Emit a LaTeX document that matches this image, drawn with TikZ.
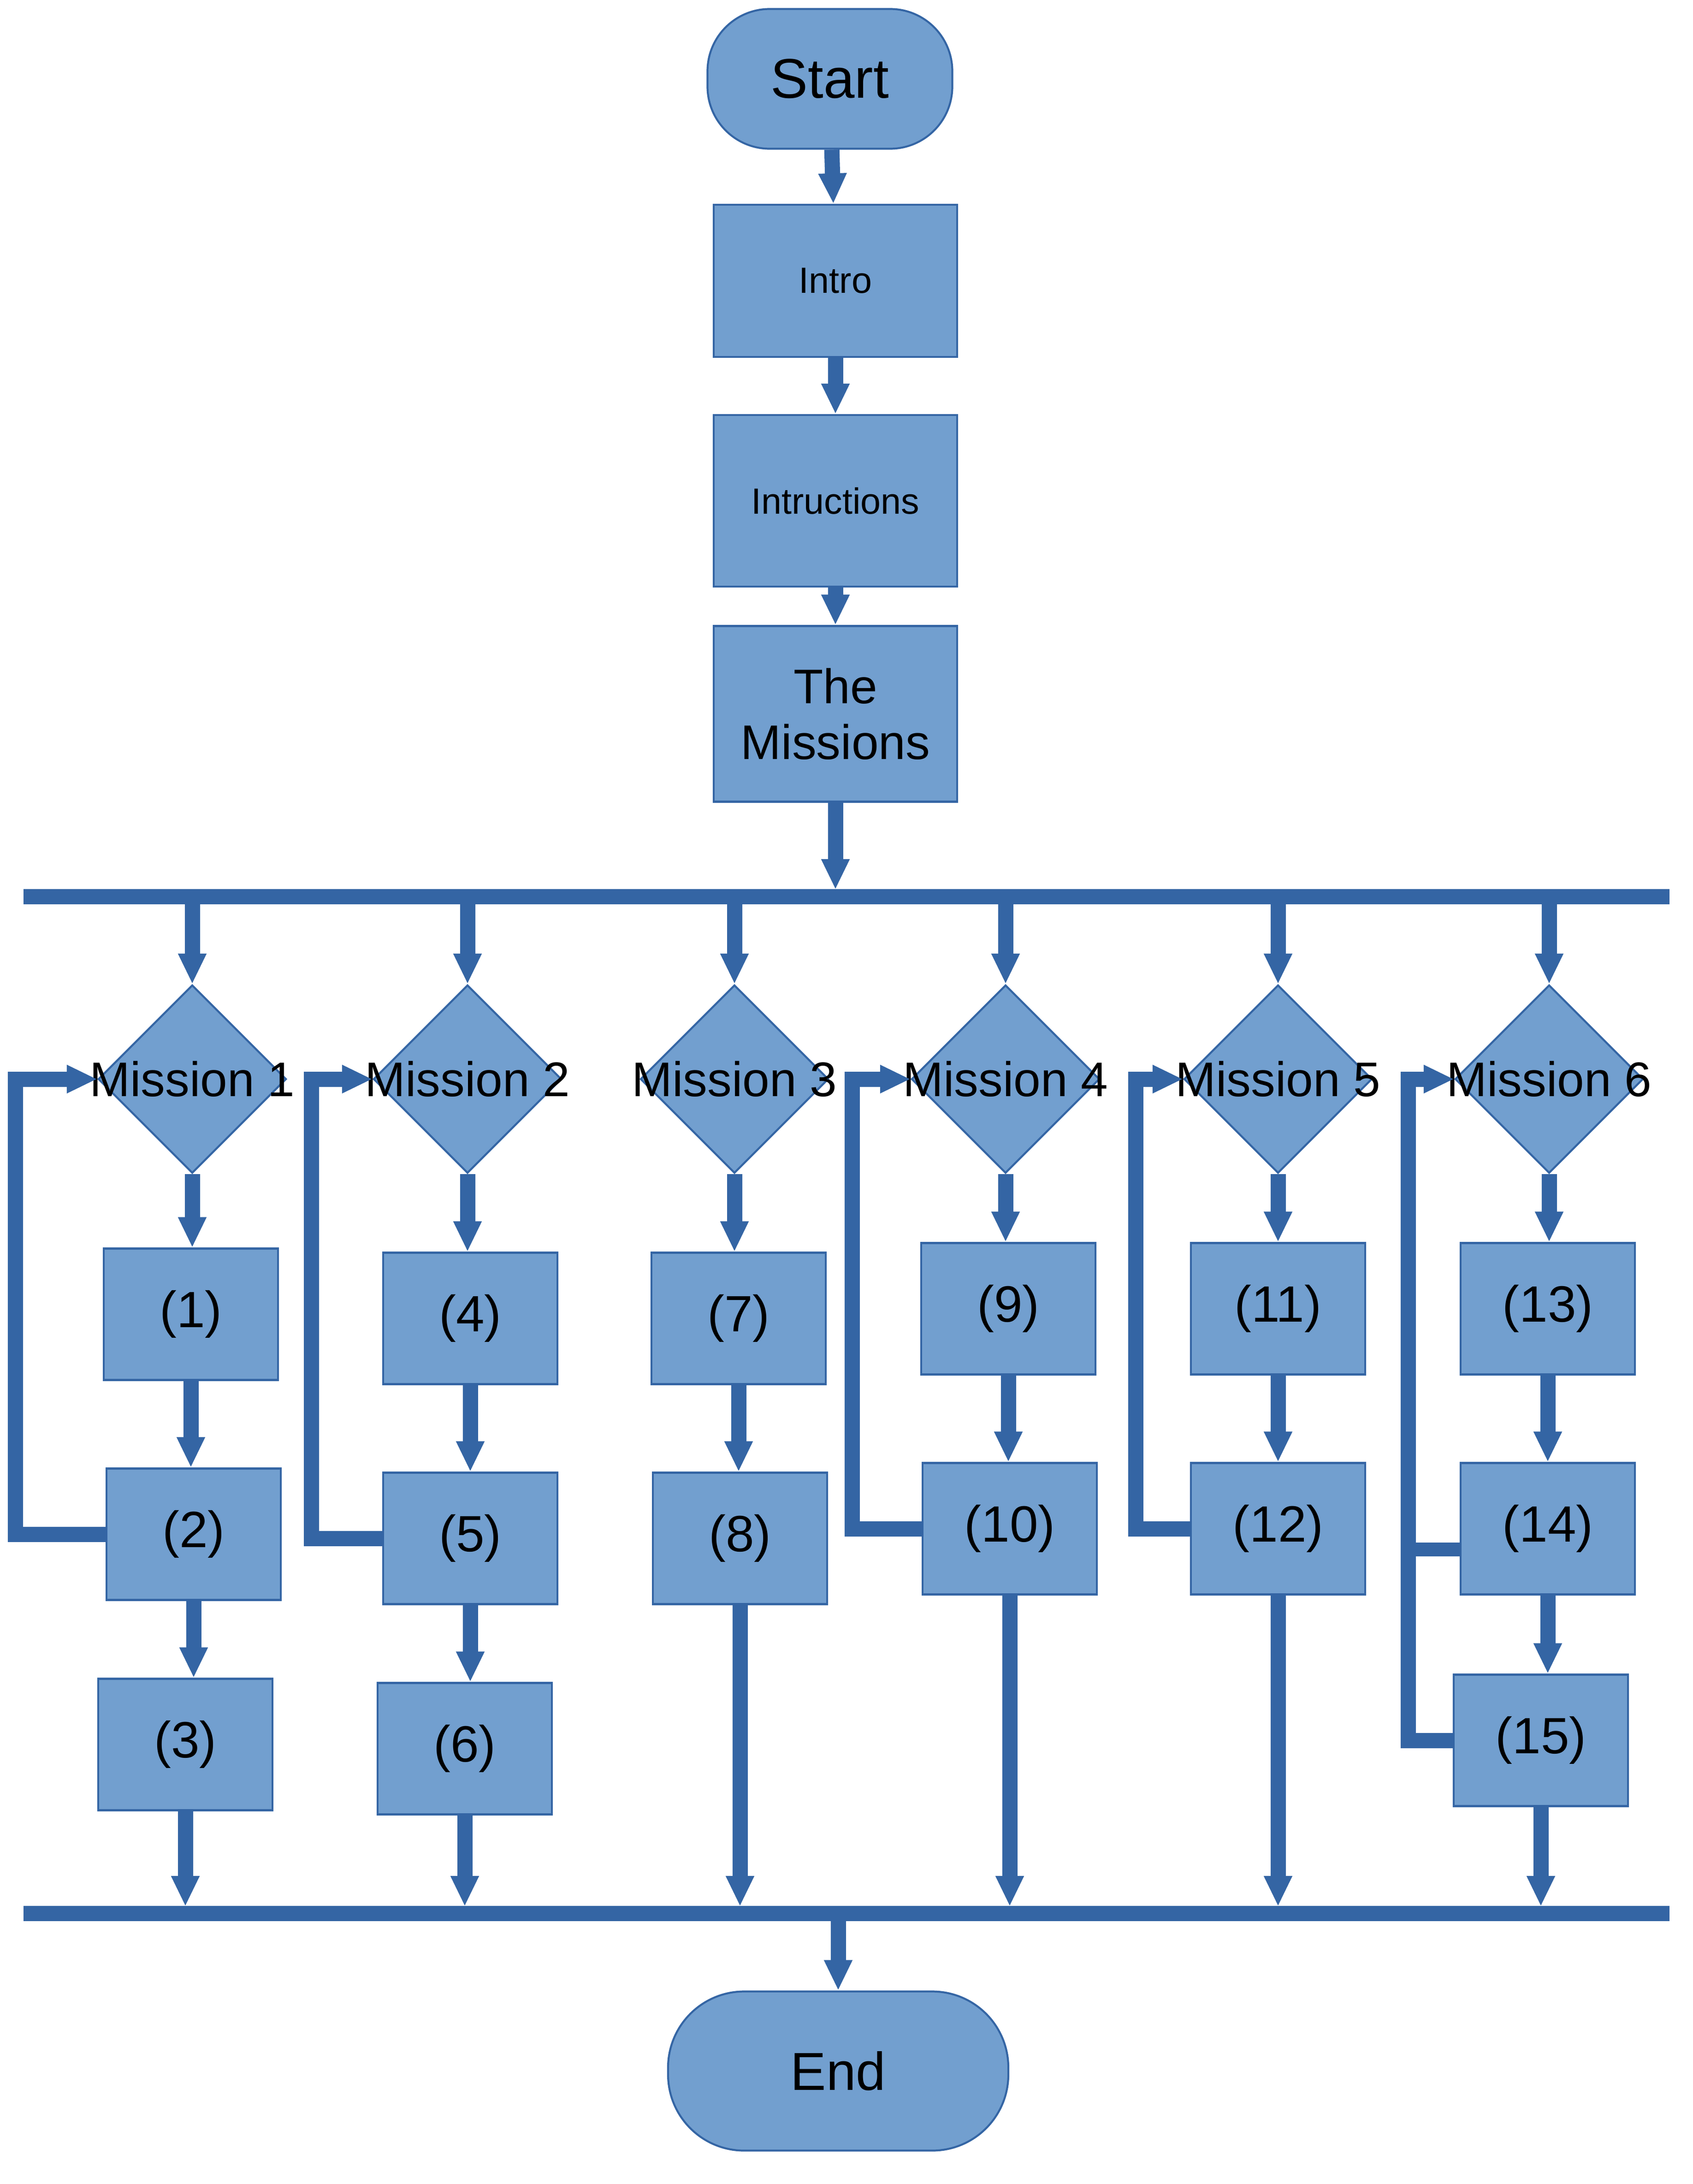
\documentclass[tikz,border=0pt]{standalone}
\usepackage{xcolor}
\usepackage{fontspec}
\setmainfont{Liberation Sans}
\usepackage{tikz}
\usetikzlibrary{shapes,arrows.meta,positioning,calc}

\definecolor{boxfill}{HTML}{729FCF}
\definecolor{boxline}{HTML}{3465A4}

\begin{document}
\begin{tikzpicture}[x=0.2mm, y=-0.2mm,
    terminal/.style={draw=boxline, fill=boxfill, line width=0.8pt, rounded corners=0.9cm, inner sep=0pt},
    box/.style={draw=boxline, fill=boxfill, line width=0.8pt, minimum width=2.52cm, minimum height=1.9cm, inner sep=0pt, font=\fontsize{21}{25}\selectfont},
    decision/.style={diamond, draw=boxline, fill=boxfill, line width=0.8pt, minimum width=2.72cm, minimum height=2.72cm, inner sep=0pt},
    mlabel/.style={font=\fontsize{20}{24}\selectfont, inner sep=0pt},
    flow/.style={draw=boxline, line width=0.22cm, -{Triangle[width=0.38cm,length=0.44cm]}},
    tobar/.style={flow, shorten >=1mm},
    bar/.style={draw=boxline, line width=0.22cm}]

    \useasboundingbox (0,0) rectangle (1224,1578.67);

    % top part
    \node[terminal, minimum width=3.54cm, minimum height=2.02cm, font=\fontsize{23}{27}\selectfont] (start) at (600,57) {Start};
    \node[box, minimum width=3.52cm, minimum height=2.2cm, font=\fontsize{15}{18}\selectfont] (intro) at (604,203) {Intro};
    \node[box, minimum width=3.52cm, minimum height=2.48cm, font=\fontsize{15}{18}\selectfont] (instr) at (604,362) {Intructions};
    \node[box, minimum width=3.52cm, minimum height=2.54cm, align=center, font=\fontsize{20}{23}\selectfont] (missions) at (604,516) {The\\Missions};

    \draw[flow] (start) -- (intro);
    \draw[flow] (intro) -- (instr);
    \draw[flow] (instr) -- (missions);

    % bars
    \coordinate (topL) at (17,648);
    \coordinate (topR) at (1207,648);
    \coordinate (botL) at (17,1383);
    \coordinate (botR) at (1207,1383);
    \draw[bar] (topL) -- (topR);
    \draw[bar] (botL) -- (botR);
    \draw[tobar] (missions) -- (missions |- topL);

    % missions
    \node[decision, label={[mlabel]center:Mission 1}] (m1) at (139,780) {};
    \node[decision, label={[mlabel]center:Mission 2}] (m2) at (338,780) {};
    \node[decision, label={[mlabel]center:Mission 3}] (m3) at (531,780) {};
    \node[decision, label={[mlabel]center:Mission 4}] (m4) at (727,780) {};
    \node[decision, label={[mlabel]center:Mission 5}] (m5) at (924,780) {};
    \node[decision, label={[mlabel]center:Mission 6}] (m6) at (1120,780) {};

    % steps
    \node[box] (b1) at (138,950) {(1)};
    \node[box] (b2) at (140,1109) {(2)};
    \node[box] (b3) at (134,1261) {(3)};
    \node[box] (b4) at (340,953) {(4)};
    \node[box] (b5) at (340,1112) {(5)};
    \node[box] (b6) at (336,1264) {(6)};
    \node[box] (b7) at (534,953) {(7)};
    \node[box] (b8) at (535,1112) {(8)};
    \node[box] (b9) at (729,946) {(9)};
    \node[box] (b10) at (730,1105) {(10)};
    \node[box] (b11) at (924,946) {(11)};
    \node[box] (b12) at (924,1105) {(12)};
    \node[box] (b13) at (1119,946) {(13)};
    \node[box] (b14) at (1119,1105) {(14)};
    \node[box] (b15) at (1114,1258) {(15)};

    % Mission 1
    \draw[flow] (m1 |- topL) -- (m1);
    \draw[flow] (m1) -- (m1 |- b1.north);
    \draw[flow] (b1) -- (b1 |- b2.north);
    \draw[flow] (b2) -- (b2 |- b3.north);
    \draw[tobar] (b3) -- (b3 |- botL);
    \draw[flow] (b2.west) -- ++(-65,0) |- (m1.west);

    % Mission 2
    \draw[flow] (m2 |- topL) -- (m2);
    \draw[flow] (m2) -- (m2 |- b4.north);
    \draw[flow] (b4) -- (b4 |- b5.north);
    \draw[flow] (b5) -- (b5 |- b6.north);
    \draw[tobar] (b6) -- (b6 |- botL);
    \draw[flow] (b5.west) -- ++(-51,0) |- (m2.west);

    % Mission 3
    \draw[flow] (m3 |- topL) -- (m3);
    \draw[flow] (m3) -- (m3 |- b7.north);
    \draw[flow] (b7) -- (b7 |- b8.north);
    \draw[tobar] (b8) -- (b8 |- botL);

    % Mission 4
    \draw[flow] (m4 |- topL) -- (m4);
    \draw[flow] (m4) -- (m4 |- b9.north);
    \draw[flow] (b9) -- (b9 |- b10.north);
    \draw[tobar] (b10) -- (b10 |- botL);
    \draw[flow] (b10.west) -- ++(-50,0) |- (m4.west);

    % Mission 5
    \draw[flow] (m5 |- topL) -- (m5);
    \draw[flow] (m5) -- (m5 |- b11.north);
    \draw[flow] (b11) -- (b11 |- b12.north);
    \draw[tobar] (b12) -- (b12 |- botL);
    \draw[flow] (b12.west) -- ++(-39,0) |- (m5.west);

    % Mission 6
    \draw[flow] (m6 |- topL) -- (m6);
    \draw[flow] (m6) -- (m6 |- b13.north);
    \draw[flow] (b13) -- (b13 |- b14.north);
    \draw[flow] (b14) -- (b14 |- b15.north);
    \draw[tobar] (b15) -- (b15 |- botL);
    \draw[flow] (b15.west) -- ++(-32,0) |- (m6.west);
    \draw[bar, line width=0.2cm] ([yshift=-3mm]b14.west) -- ++(-37,0);

    % end
    \node[terminal, minimum width=4.92cm, minimum height=2.3cm, rounded corners=1.1cm, font=\fontsize{22}{26}\selectfont] (end) at (606,1497) {End};
    \draw[flow] (end |- botL) -- (end);
\end{tikzpicture}
\end{document}
